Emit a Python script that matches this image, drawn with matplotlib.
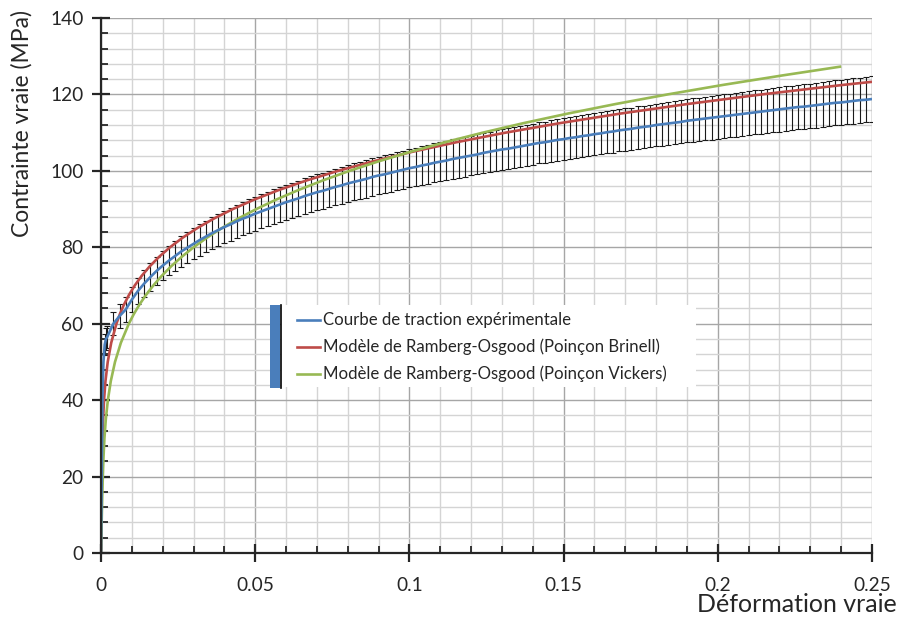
import matplotlib
matplotlib.use("Agg")
import matplotlib.pyplot as plt
from matplotlib.lines import Line2D
from matplotlib.patches import Rectangle
from matplotlib.ticker import MultipleLocator

plt.rcParams['font.family'] = ['Lato', 'DejaVu Sans']

# ---- Data -------------------------------------------------------------
# Experimental true stress-strain curve (blue)
exp_strain = [0.0, 0.0003, 0.0005, 0.0008, 0.0012, 0.0016] + [
    0.002, 0.004, 0.006, 0.008, 0.010, 0.012, 0.014, 0.016, 0.018, 0.020,
    0.022, 0.024, 0.026, 0.028, 0.030, 0.032, 0.034, 0.036, 0.038, 0.040,
    0.042, 0.044, 0.046, 0.048, 0.050, 0.052, 0.054, 0.056, 0.058, 0.060,
    0.062, 0.064, 0.066, 0.068, 0.070, 0.072, 0.074, 0.076, 0.078, 0.080,
    0.082, 0.084, 0.086, 0.088, 0.090, 0.092, 0.094, 0.096, 0.098, 0.100,
    0.102, 0.104, 0.106, 0.108, 0.110, 0.112, 0.114, 0.116, 0.118, 0.120,
    0.122, 0.124, 0.126, 0.128, 0.130, 0.132, 0.134, 0.136, 0.138, 0.140,
    0.142, 0.144, 0.146, 0.148, 0.150, 0.152, 0.154, 0.156, 0.158, 0.160,
    0.162, 0.164, 0.166, 0.168, 0.170, 0.172, 0.174, 0.176, 0.178, 0.180,
    0.182, 0.184, 0.186, 0.188, 0.190, 0.192, 0.194, 0.196, 0.198, 0.200,
    0.202, 0.204, 0.206, 0.208, 0.210, 0.212, 0.214, 0.216, 0.218, 0.220,
    0.222, 0.224, 0.226, 0.228, 0.230, 0.232, 0.234, 0.236, 0.238, 0.240,
    0.242, 0.244, 0.246, 0.248, 0.250]
exp_stress = [0.0, 25.0, 42.0, 50.0, 54.5, 56.0] + [
    56.5, 60.0, 62.0, 63.7, 66.3, 68.6, 70.5, 72.2, 73.8, 75.2,
    76.5, 77.7, 78.9, 79.9, 80.9, 81.9, 82.8, 83.7, 84.5, 85.3,
    86.0, 86.8, 87.5, 88.1, 88.8, 89.4, 90.0, 90.6, 91.2, 91.8,
    92.3, 92.8, 93.4, 93.9, 94.4, 94.8, 95.3, 95.8, 96.2, 96.7,
    97.1, 97.5, 97.9, 98.4, 98.8, 99.1, 99.5, 99.9, 100.3, 100.7,
    101.0, 101.4, 101.7, 102.1, 102.4, 102.7, 103.1, 103.4, 103.7, 104.0,
    104.3, 104.7, 105.0, 105.3, 105.6, 105.8, 106.1, 106.4, 106.7, 107.0,
    107.3, 107.5, 107.8, 108.1, 108.3, 108.6, 108.8, 109.1, 109.3, 109.6,
    109.8, 110.1, 110.3, 110.6, 110.8, 111.0, 111.3, 111.5, 111.7, 112.0,
    112.2, 112.4, 112.6, 112.8, 113.1, 113.3, 113.5, 113.7, 113.9, 114.1,
    114.3, 114.5, 114.7, 114.9, 115.1, 115.3, 115.5, 115.7, 115.9, 116.1,
    116.3, 116.5, 116.7, 116.8, 117.0, 117.2, 117.4, 117.6, 117.8, 117.9,
    118.1, 118.3, 118.5, 118.6, 118.8]
exp_err_rel = 0.05  # error bars: +/- 5 % of stress
exp_err_first = 4   # error bars start from this point index

# Ramberg-Osgood model, Brinell indenter (red)
brinell_strain = [0.00000, 0.00007, 0.00014, 0.00022, 0.00029, 0.00039, 0.00051,
                  0.00069, 0.00098, 0.00145, 0.00218, 0.00331, 0.00500, 0.00611,
                  0.00745, 0.00905, 0.01094, 0.01317, 0.01578, 0.01883, 0.02237,
                  0.02646, 0.03117, 0.03657, 0.04274, 0.04975, 0.05771, 0.06671,
                  0.07685, 0.08825, 0.10102, 0.11529, 0.13120, 0.14889, 0.16852,
                  0.19024, 0.21424, 0.24069, 0.25000]
brinell_stress = [0.0, 5.0, 10.0, 15.0, 20.0, 25.0, 30.0, 35.0, 40.0, 45.0, 50.0,
                  55.0, 60.0, 62.5, 65.0, 67.5, 70.0, 72.5, 75.0, 77.5, 80.0,
                  82.5, 85.0, 87.5, 90.0, 92.5, 95.0, 97.5, 100.0, 102.5, 105.0,
                  107.5, 110.0, 112.5, 115.0, 117.5, 120.0, 122.5, 123.3]

# Ramberg-Osgood model, Vickers indenter (green)
vickers_strain = [0.00000, 0.00014, 0.00027, 0.00042, 0.00059, 0.00081, 0.00111,
                  0.00156, 0.00222, 0.00318, 0.00454, 0.00644, 0.00902, 0.01062,
                  0.01246, 0.01456, 0.01695, 0.01966, 0.02272, 0.02616, 0.03002,
                  0.03433, 0.03913, 0.04446, 0.05036, 0.05688, 0.06406, 0.07195,
                  0.08059, 0.09005, 0.10036, 0.11160, 0.12382, 0.13707, 0.15143,
                  0.16695, 0.18370, 0.20175, 0.22118, 0.24000]
vickers_stress = [0.0, 5.0, 10.0, 15.0, 20.0, 25.0, 30.0, 35.0, 40.0, 45.0, 50.0,
                  55.0, 60.0, 62.5, 65.0, 67.5, 70.0, 72.5, 75.0, 77.5, 80.0,
                  82.5, 85.0, 87.5, 90.0, 92.5, 95.0, 97.5, 100.0, 102.5, 105.0,
                  107.5, 110.0, 112.5, 115.0, 117.5, 120.0, 122.5, 125.0, 127.3]

series_labels = ["Courbe de traction expérimentale",
                 "Modèle de Ramberg-Osgood (Poinçon Brinell)",
                 "Modèle de Ramberg-Osgood (Poinçon Vickers)"]
x_ticks = [0, 0.05, 0.1, 0.15, 0.2, 0.25]
x_tick_labels = ["0", "0.05", "0.1", "0.15", "0.2", "0.25"]
y_ticks = [0, 20, 40, 60, 80, 100, 120, 140]
y_tick_labels = ["0", "20", "40", "60", "80", "100", "120", "140"]
x_label = "Déformation vraie"
y_label = "Contrainte vraie (MPa)"

# ---- Style ------------------------------------------------------------
c_blue, c_red, c_green = "#4a7ebb", "#be4b48", "#98b954"
txt_col = "#262626"
W, H = 900, 619
L, R, T, B = 101, 872, 18, 553

fig = plt.figure(figsize=(W / 100, H / 100), dpi=100)
ax = fig.add_axes([L / W, 1 - B / H, (R - L) / W, (B - T) / H])

ax.set_xlim(0, 0.25)
ax.set_ylim(0, 140)

# grid
ax.xaxis.set_minor_locator(MultipleLocator(0.01))
ax.yaxis.set_minor_locator(MultipleLocator(4))
ax.grid(which="major", color="#a6a6a6", lw=1.0, zorder=0)
ax.grid(which="minor", color="#d4d4d4", lw=1.0, zorder=0)
ax.set_axisbelow(True)

# error bars
eb_x = exp_strain[exp_err_first:]
eb_y = exp_stress[exp_err_first:]
eb_e = [exp_err_rel * v for v in eb_y]
ax.errorbar(eb_x, eb_y, yerr=eb_e, fmt="none", ecolor="#1a1a1a", elinewidth=0.8,
            capsize=2.2, capthick=0.8, zorder=2)

ax.plot(exp_strain, exp_stress, color=c_blue, lw=1.9, zorder=4, solid_capstyle="butt")
ax.plot(brinell_strain, brinell_stress, color=c_red, lw=1.9, zorder=3, solid_capstyle="butt")
ax.plot(vickers_strain, vickers_stress, color=c_green, lw=1.9, zorder=3, solid_capstyle="butt")

# spines / ticks
for s in ("top", "right"):
    ax.spines[s].set_visible(False)
for s in ("left", "bottom"):
    ax.spines[s].set_linewidth(1.6)
    ax.spines[s].set_color(txt_col)
    ax.spines[s].set_zorder(5)

ax.set_xticks(x_ticks)
ax.set_xticklabels(x_tick_labels)
ax.set_yticks(y_ticks)
ax.set_yticklabels(y_tick_labels)
ax.tick_params(which="major", direction="inout", length=13, width=1.6, color=txt_col,
               labelsize=13.8, labelcolor=txt_col)
ax.tick_params(axis="x", which="major", pad=11)
ax.tick_params(axis="y", which="major", pad=6)
ax.tick_params(which="minor", direction="in", length=5, width=1.3, color=txt_col)
for lab in ax.get_xticklabels() + ax.get_yticklabels():
    lab.set_clip_on(False)

fig.text(22 / W, 1 - 10 / H, y_label, rotation=90, ha="center", va="top",
         fontsize=16.5, color=txt_col)
fig.text(897 / W, 1 - 605 / H, x_label, ha="right", va="center",
         fontsize=18, color=txt_col)

# legend (placed in pixel-based axes-fraction coordinates)
def fx(px):
    return (px - L) / (R - L)

def fy(py):
    return (B - py) / (B - T)

ax.add_patch(Rectangle((fx(281), fy(387)), fx(696) - fx(281), fy(305) - fy(387),
                       transform=ax.transAxes, facecolor="white", edgecolor="none",
                       zorder=6))
ax.add_patch(Rectangle((fx(270), fy(388)), fx(280) - fx(270), fy(305) - fy(388),
                       transform=ax.transAxes, facecolor=c_blue, edgecolor="none",
                       zorder=6))
ax.add_line(Line2D([fx(280.5), fx(280.5)], [fy(388), fy(305)], transform=ax.transAxes,
                   color="black", lw=1.2, zorder=7))
for i, (lab, col) in enumerate(zip(series_labels, [c_blue, c_red, c_green])):
    yy = 320 + 27 * i
    ax.add_line(Line2D([fx(297), fx(320)], [fy(yy), fy(yy)], transform=ax.transAxes,
                       color=col, lw=1.9, zorder=7))
    ax.text(fx(323), fy(yy), lab, transform=ax.transAxes, ha="left", va="center",
            fontsize=12.1, color=txt_col, zorder=7)

fig.savefig("out.png", dpi=100)
